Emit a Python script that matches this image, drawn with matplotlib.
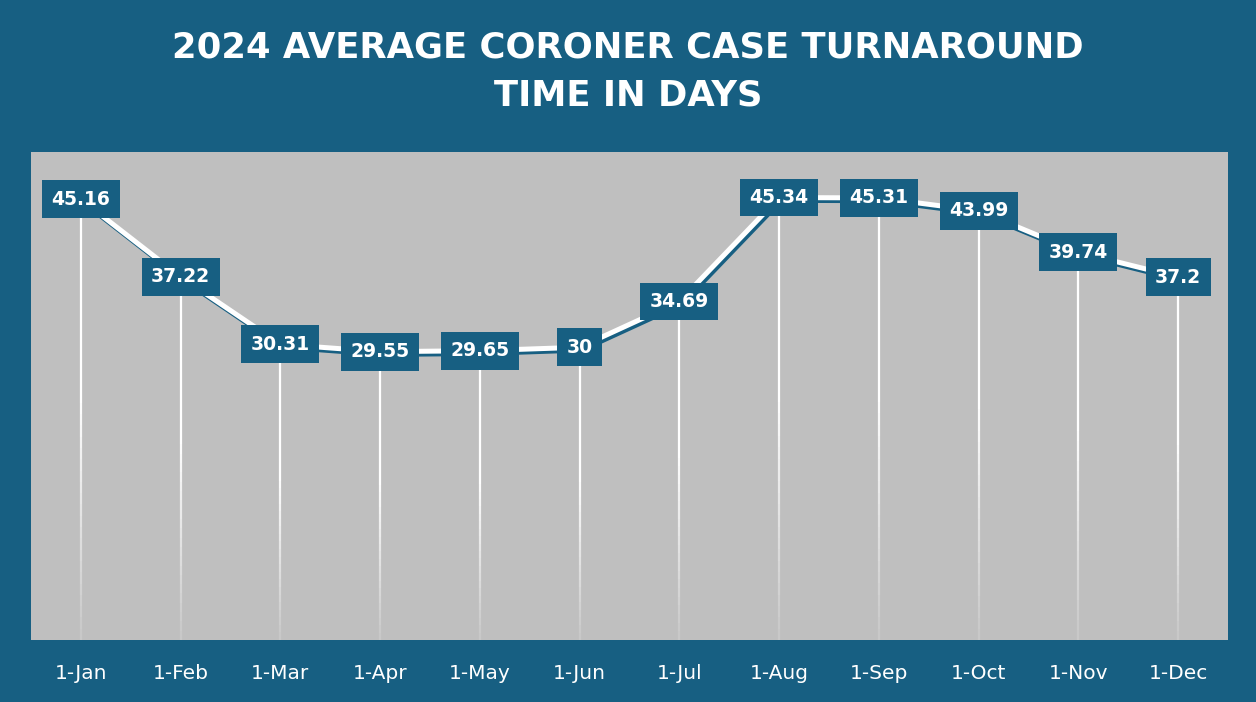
import numpy as np
import matplotlib.pyplot as plt
import matplotlib.patheffects as pe
from matplotlib.collections import LineCollection

months = ['1-Jan', '1-Feb', '1-Mar', '1-Apr', '1-May', '1-Jun',
          '1-Jul', '1-Aug', '1-Sep', '1-Oct', '1-Nov', '1-Dec']
days = [45.16, 37.22, 30.31, 29.55, 29.65, 30, 34.69, 45.34, 45.31, 43.99, 39.74, 37.2]
labels = ['45.16', '37.22', '30.31', '29.55', '29.65', '30',
          '34.69', '45.34', '45.31', '43.99', '39.74', '37.2']

blue = '#175F82'
grey = '#BFBFBF'

fig = plt.figure(figsize=(12.56, 7.02), dpi=100, facecolor=blue)
ax = fig.add_axes([0.0247, 0.0883, 0.953, 0.695])
ax.set_facecolor(grey)
x = np.arange(len(months))

# drop lines fading towards the bottom
segs, cols = [], []
for xi, v in zip(x, days):
    ys = np.linspace(v, 0, 40)
    for k in range(len(ys) - 1):
        segs.append([(xi, ys[k]), (xi, ys[k + 1])])
        frac = ys[k] / v
        a = min(1.0, 0.1 + 1.6 * frac)
        cols.append((1, 1, 1, a))
ax.add_collection(LineCollection(segs, colors=cols, linewidths=1.6, zorder=2))

ax.plot(x, days, color='white', lw=3.6, zorder=3, solid_capstyle='round',
        path_effects=[pe.SimpleLineShadow(offset=(1.5, -2), shadow_color=blue, alpha=1),
                      pe.Normal()])

for xi, v, t in zip(x, days, labels):
    ax.text(xi, v, t, ha='center', va='center', color='white', fontsize=13.5,
            fontweight='bold', zorder=5,
            bbox=dict(boxstyle='square,pad=0.5', fc=blue, ec='none'))

ax.set_xlim(-0.5, 11.5)
ax.set_ylim(0, 50)
ax.set_xticks(x)
ax.set_xticklabels(months, color='white', fontsize=14.5)
ax.tick_params(axis='x', length=0, pad=17)
ax.set_yticks([])
for s in ax.spines.values():
    s.set_visible(False)

fig.text(0.5, 0.932, '2024 AVERAGE CORONER CASE TURNAROUND', ha='center', va='center',
         color='white', fontsize=25.5, fontweight='bold')
fig.text(0.5, 0.864, 'TIME IN DAYS', ha='center', va='center',
         color='white', fontsize=25.5, fontweight='bold')

fig.savefig('out.png', dpi=100, facecolor=blue)
